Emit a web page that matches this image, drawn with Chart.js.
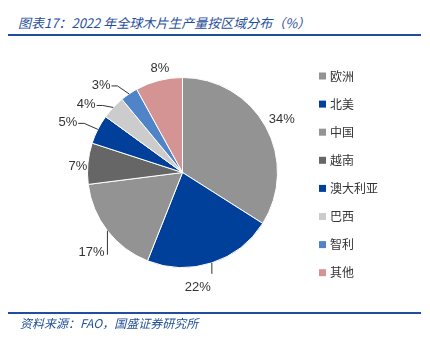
<!DOCTYPE html>
<html>
<head>
<meta charset="utf-8">
<script src="https://cdn.jsdelivr.net/npm/chart.js@4.4.1/dist/chart.umd.min.js"></script>
<style>
  html, body { margin: 0; padding: 0; background: #fff; }
  #wrap { position: relative; width: 430px; height: 341px; overflow: hidden; }
  #chart { position: absolute; left: 0; top: 0; }
  .title { position: absolute; left: 18px; top: 13px; font: italic 13px "Noto Sans CJK SC", sans-serif; color: #1f4e9c; white-space: nowrap; }
  .rule { position: absolute; left: 8px; width: 413px; height: 2px; background: #1f4e9c; }
  .src { position: absolute; left: 20px; top: 314px; font: italic 12px "Noto Sans CJK SC", sans-serif; color: #1f4e9c; white-space: nowrap; }
</style>
</head>
<body>
<div id="wrap">
  <div class="title">图表17：2022 年全球木片生产量按区域分布（%）</div>
  <div class="rule" style="top:34px"></div>
  <canvas id="chart" width="430" height="341"></canvas>
  <div class="rule" style="top:312px"></div>
  <div class="src">资料来源：FAO，国盛证券研究所</div>
</div>
<script>
// 数据
const regioni = ["欧洲", "北美", "中国", "越南", "澳大利亚", "巴西", "智利", "其他"];
const quote = [34, 22, 17, 7, 5, 4, 3, 8];
const colori = ["#939393", "#003f9a", "#939393", "#666666", "#003f9a", "#cccccc", "#4f85c8", "#d49494"];

// spostamento etichette rispetto al bordo della fetta + tipo di linea guida
const spostamenti = [[16, -7], [-14, 25], [-16, 22], [-10, 3], [-30, -7], [-27, -3], [-28, -9], [1, -12]];
const guide = ["none", "down", "left", "none", "side", "side", "side", "none"];

const etichette = {
    id: "etichette",
    afterDatasetsDraw(chart) {
        const ctx = chart.ctx;
        const meta = chart.getDatasetMeta(0);
        ctx.save();
        ctx.font = "13px 'Liberation Sans', sans-serif";
        ctx.fillStyle = "#333";
        ctx.strokeStyle = "#333";
        ctx.lineWidth = 1;
        ctx.textAlign = "center";
        ctx.textBaseline = "middle";
        meta.data.forEach((arc, i) => {
            const p = arc.getProps(["x", "y", "startAngle", "endAngle", "outerRadius"], true);
            const mid = (p.startAngle + p.endAngle) / 2;
            const ex = p.x + Math.cos(mid) * p.outerRadius;
            const ey = p.y + Math.sin(mid) * p.outerRadius;
            const tx = ex + spostamenti[i][0];
            const ty = ey + spostamenti[i][1];
            const testo = quote[i] + "%";
            const w = ctx.measureText(testo).width;
            ctx.beginPath();
            if (guide[i] === "down") {
                ctx.moveTo(ex, ey);
                ctx.lineTo(ex, ty - 14);
                ctx.stroke();
            } else if (guide[i] === "left") {
                ctx.moveTo(ex, ey);
                ctx.lineTo(ex, ty + 2);
                ctx.stroke();
            } else if (guide[i] === "side") {
                ctx.moveTo(ex, ey);
                ctx.lineTo(tx + w / 2 + 7, ty + 1);
                ctx.lineTo(tx + w / 2 + 1, ty + 1);
                ctx.stroke();
            }
            ctx.fillText(testo, tx, ty);
        });
        // legenda a destra
        ctx.textAlign = "left";
        ctx.font = "12px 'Noto Sans CJK SC', sans-serif";
        regioni.forEach((r, i) => {
            const y = 76 + i * 28.1;
            ctx.fillStyle = colori[i];
            ctx.fillRect(319, y - 3.5, 7, 7);
            ctx.fillStyle = "#333";
            ctx.fillText(r, 330, y);
        });
        ctx.restore();
    }
};

new Chart(document.getElementById("chart"), {
    type: "pie",
    data: {
        labels: regioni,
        datasets: [{
            data: quote,
            backgroundColor: colori,
            borderColor: "#fff",
            borderWidth: 1
        }]
    },
    options: {
        responsive: false,
        animation: false,
        layout: { padding: { left: 87, right: 152, top: 77, bottom: 73 } },
        plugins: {
            legend: { display: false },
            tooltip: { enabled: false }
        }
    },
    plugins: [etichette]
});
</script>
</body>
</html>
